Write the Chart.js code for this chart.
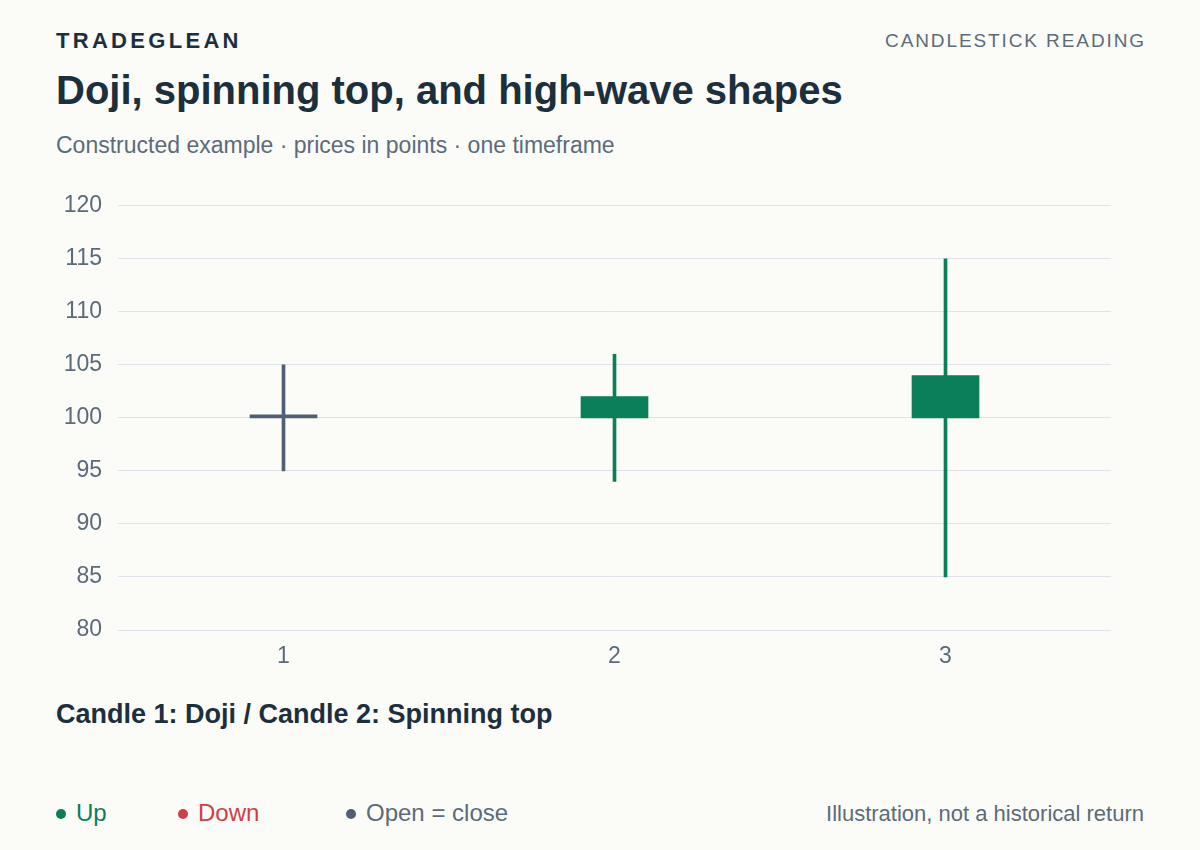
<!DOCTYPE html>
<html>
<head>
<meta charset="utf-8">
<script src="https://cdn.jsdelivr.net/npm/chart.js@4.4.1/dist/chart.umd.min.js"></script>
<style>
  html, body { margin: 0; padding: 0; background: #fbfbf8; }
  body { width: 1200px; height: 850px; position: relative; overflow: hidden;
         font-family: "Liberation Sans", Arial, Helvetica, sans-serif; }
  div { line-height: normal; white-space: nowrap; }
  .brand { position: absolute; left: 56px; top: 28px; font-size: 22px; font-weight: bold;
           letter-spacing: 3.3px; color: #1b2f3d; }
  .kicker { position: absolute; right: 54px; top: 30px; font-size: 19px; letter-spacing: 1.9px;
            color: #5c6b7a; }
  .title { position: absolute; left: 56px; top: 68px; font-size: 40px; font-weight: bold;
           color: #1b2f3d; }
  .sub { position: absolute; left: 56px; top: 132px; font-size: 23px; color: #5c6b7a; }
  .caption { position: absolute; left: 56px; top: 699px; font-size: 27px; font-weight: bold;
             color: #1b2f3d; }
  .legend { position: absolute; top: 799px; font-size: 24px; }
  .legend .dot { display: inline-block; width: 10px; height: 10px; border-radius: 50%;
                 vertical-align: middle; margin-right: 10px; position: relative; top: -1px; }
  .note { position: absolute; right: 56px; top: 801px; font-size: 22px; color: #5c6b7a; }
  #wrap { position: absolute; left: 0; top: 176px; width: 1200px; height: 494px; }
</style>
</head>
<body>
<div class="brand">TRADEGLEAN</div>
<div class="kicker">CANDLESTICK READING</div>
<div class="title">Doji, spinning top, and high-wave shapes</div>
<div class="sub">Constructed example · prices in points · one timeframe</div>
<div id="wrap"><canvas id="c"></canvas></div>
<div class="caption">Candle 1: Doji / Candle 2: Spinning top</div>
<div class="legend" style="left:56px;color:#0a7f5a"><span class="dot" style="background:#0a7f5a"></span>Up</div>
<div class="legend" style="left:178px;color:#cf3f45"><span class="dot" style="background:#cf3f45"></span>Down</div>
<div class="legend" style="left:346px;color:#5c6b7a"><span class="dot" style="background:#4f6072"></span>Open = close</div>
<div class="note">Illustration, not a historical return</div>
<script>
const labels = ["1", "2", "3"];
const opens  = [100, 100, 100];
const highs  = [105, 106, 115];
const lows   = [95, 94, 85];
const closes = [100, 102, 104];
const yTicks = [80, 85, 90, 95, 100, 105, 110, 115, 120];

const UP = "#0a7f5a", DOWN = "#cf3f45", FLAT = "#4f6072";
const colorFor = i => closes[i] > opens[i] ? UP : (closes[i] < opens[i] ? DOWN : FLAT);
const colors = labels.map((_, i) => colorFor(i));

new Chart(document.getElementById("c"), {
  type: "bar",
  data: {
    labels,
    datasets: [
      {
        label: "Wick",
        data: labels.map((_, i) => [lows[i], highs[i]]),
        backgroundColor: colors,
        barThickness: 3,
        grouped: false,
        order: 2
      },
      {
        label: "Body",
        data: labels.map((_, i) => [opens[i], closes[i]]),
        backgroundColor: colors,
        barThickness: 67,
        minBarLength: 3,
        grouped: false,
        order: 1
      }
    ]
  },
  options: {
    responsive: true,
    maintainAspectRatio: false,
    animation: false,
    layout: { padding: { top: 0, right: 89, left: 0, bottom: 0 } },
    plugins: { legend: { display: false }, tooltip: { enabled: false } },
    scales: {
      x: {
        grid: { display: false, drawTicks: false },
        border: { display: false },
        ticks: { color: "#5c6b7a", font: { family: "Liberation Sans", size: 23 }, padding: 13 },
        afterFit: s => { s.height = 40; }
      },
      y: {
        min: 80, max: 120,
        afterBuildTicks: s => { s.ticks = yTicks.map(v => ({ value: v })); },
        grid: { color: "#dfe3ea", lineWidth: 1, drawTicks: false },
        border: { display: false },
        ticks: { color: "#5c6b7a", font: { family: "Liberation Sans", size: 23 }, padding: 16 },
        afterFit: s => { s.width = 118; }
      }
    }
  }
});
</script>
</body>
</html>
